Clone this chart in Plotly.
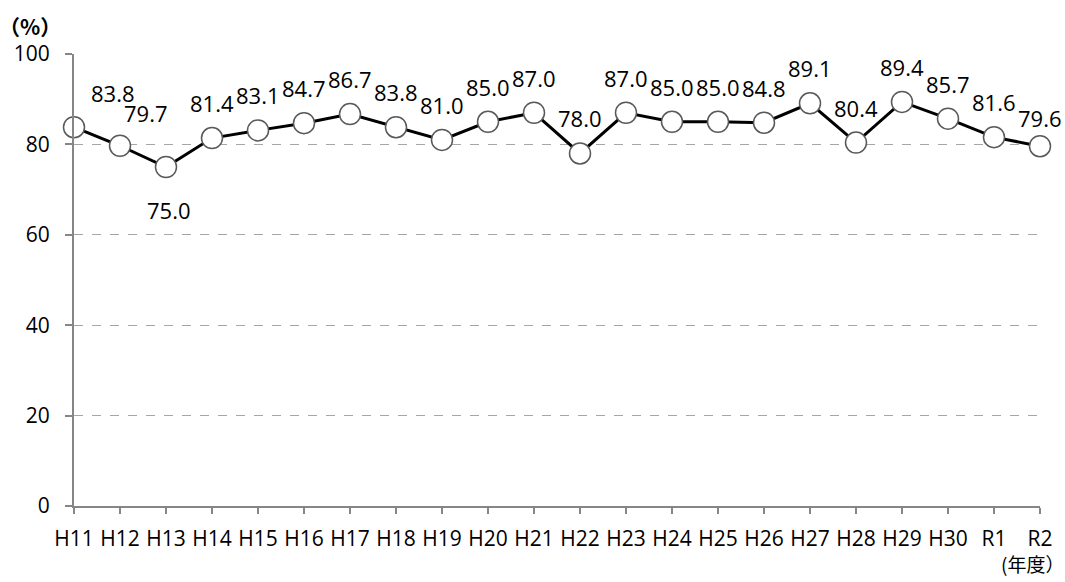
import plotly.graph_objects as go

years = ["H11", "H12", "H13", "H14", "H15", "H16", "H17", "H18", "H19", "H20", "H21",
         "H22", "H23", "H24", "H25", "H26", "H27", "H28", "H29", "H30", "R1", "R2"]
rates = [83.8, 79.7, 75.0, 81.4, 83.1, 84.7, 86.7, 83.8, 81.0, 85.0, 87.0,
         78.0, 87.0, 85.0, 85.0, 84.8, 89.1, 80.4, 89.4, 85.7, 81.6, 79.6]
y_ticks = [0, 20, 40, 60, 80, 100]

# label pixel offsets (xshift, yshift)
label_shift = {0: (39, 34), 1: (26, 33), 2: (3, -43), 21: (0, 28)}

FONT = "Open Sans"

fig = go.Figure()
fig.add_trace(go.Scatter(
    x=years, y=rates, mode="lines+markers",
    line=dict(color="#000000", width=3),
    marker=dict(size=21, color="#FFFFFF", line=dict(color="#595959", width=1.5)),
    showlegend=False, hoverinfo="skip", cliponaxis=False,
))

for i, (cat, v) in enumerate(zip(years, rates)):
    dx, dy = label_shift.get(i, (0, 35))
    fig.add_annotation(x=cat, y=v, xref="x", yref="y", text=f"{v:.1f}",
                       showarrow=False, xshift=dx, yshift=dy,
                       font=dict(family=FONT, size=22, color="#000000"))

fig.add_annotation(x=-0.046, y=1.063, xref="paper", yref="paper", text="<b>（%）</b>",
                   showarrow=False, xanchor="center", yanchor="middle",
                   font=dict(family="Noto Sans CJK JP", size=21, color="#000000"))
fig.add_annotation(x=0.992, y=-0.128, xref="paper", yref="paper", text="(年度）",
                   showarrow=False, xanchor="center", yanchor="middle",
                   font=dict(family="Noto Sans CJK JP", size=19, color="#000000"))

fig.update_layout(
    width=1065, height=582,
    margin=dict(l=74, r=25, t=54, b=76),
    paper_bgcolor="#FFFFFF", plot_bgcolor="#FFFFFF",
    font=dict(family=FONT, size=21, color="#000000"),
)
fig.update_xaxes(
    type="category", range=[0, len(years) - 1],
    showline=True, linecolor="#868686", linewidth=2,
    ticks="outside", ticklen=6, tickcolor="#868686", tickwidth=2,
    showgrid=False, zeroline=False,
    tickfont=dict(family=FONT, size=21, color="#000000"),
    ticklabelstandoff=7,
)
fig.update_yaxes(
    range=[0, 100], tickvals=y_ticks,
    showline=True, linecolor="#868686", linewidth=2,
    ticks="outside", ticklen=7, tickcolor="#868686", tickwidth=2,
    showgrid=True, gridcolor="#A6A6A6", gridwidth=1, griddash="dash",
    zeroline=False,
    tickfont=dict(family=FONT, size=21, color="#000000"),
    ticklabelstandoff=11,
)

fig.write_html("out.html", config={"displayModeBar": False},
               post_script="document.body.style.margin='0';")
